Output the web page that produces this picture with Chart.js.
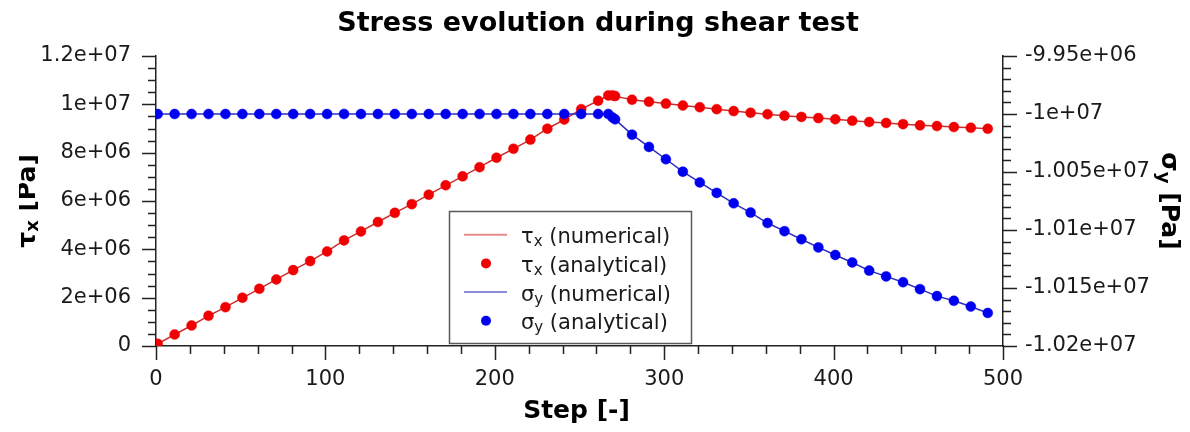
<!DOCTYPE html>
<html><head><meta charset="utf-8">
<script src="https://cdn.jsdelivr.net/npm/chart.js@4"></script>
<style>html,body{margin:0;padding:0;background:#fff;overflow:hidden}#wrap{width:1190px;height:432px}</style>
</head><body><div id="wrap"><canvas id="c" width="1190" height="432"></canvas></div>
<script>
// ---------- data ----------
const chartTitle = 'Stress evolution during shear test';
const xAxisTitle = 'Step [-]';
const startStep = 0;
const tauStart = 0;
const sigmaStart = -10.0e6;
const steps = [1,11,21,31,41,51,61,71,81,91,101,111,121,131,141,151,161,171,181,191,201,211,221,231,241,251,261,267,269.5,271,281,291,301,311,321,331,341,351,361,371,381,391,401,411,421,431,441,451,461,471,481,491];
const tauAnalytical = [0.09e6,0.476e6,0.849e6,1.249e6,1.608e6,1.995e6,2.367e6,2.754e6,3.140e6,3.513e6,3.913e6,4.37e6,4.74e6,5.13e6,5.51e6,5.87e6,6.26e6,6.65e6,7.02e6,7.40e6,7.79e6,8.16e6,8.54e6,8.99e6,9.37e6,9.80e6,10.15e6,10.37e6,10.37e6,10.34e6,10.19e6,10.11e6,10.03e6,9.95e6,9.88e6,9.80e6,9.72e6,9.65e6,9.59e6,9.53e6,9.48e6,9.43e6,9.38e6,9.32e6,9.27e6,9.23e6,9.18e6,9.13e6,9.10e6,9.06e6,9.03e6,8.99e6];
const sigmaAnalytical = [-10.0e6,-10.0e6,-10.0e6,-10.0e6,-10.0e6,-10.0e6,-10.0e6,-10.0e6,-10.0e6,-10.0e6,-10.0e6,-10.0e6,-10.0e6,-10.0e6,-10.0e6,-10.0e6,-10.0e6,-10.0e6,-10.0e6,-10.0e6,-10.0e6,-10.0e6,-10.0e6,-10.0e6,-10.0e6,-10.0e6,-10.0e6,-10.0e6,-10.003e6,-10.0046e6,-10.0178e6,-10.0284e6,-10.039e6,-10.0497e6,-10.059e6,-10.068e6,-10.077e6,-10.085e6,-10.094e6,-10.101e6,-10.108e6,-10.115e6,-10.1215e6,-10.128e6,-10.135e6,-10.140e6,-10.145e6,-10.151e6,-10.157e6,-10.161e6,-10.166e6,-10.1715e6];
const leftTickLabels = ['0','2e+06','4e+06','6e+06','8e+06','1e+07','1.2e+07'];
const rightTickLabels = ['-1.02e+07','-1.015e+07','-1.01e+07','-1.005e+07','-1e+07','-9.95e+06'];
const seriesNames = [['τ','x',' (numerical)'],['τ','x',' (analytical)'],['σ','y',' (numerical)'],['σ','y',' (analytical)']];
const leftTitle = ['τ','x',' [Pa]'];
const rightTitle = ['σ','y',' [Pa]'];

// ---------- config ----------
const X_MIN=0, X_MAX=500, X_STEP=100, X_MINOR=20;
const Y_MIN=0, Y_MAX=1.2e7, Y_STEP=2e6, Y_MINOR=5e5;
const Y2_MIN=-1.02e7, Y2_MAX=-9.95e6, Y2_STEP=5e4, Y2_MINOR=1e4;
const FONT='"DejaVu Sans", Verdana, sans-serif';
const RED='rgb(240,0,0)', BLUE='rgb(0,0,240)';
const RED_LINE='rgb(205,45,45)', BLUE_LINE='rgb(45,45,190)';
const AXIS='#222';

const pts = (xs, ys) => xs.map((x,i)=>({x:x,y:ys[i]}));
const tauNumerical = [{x:startStep,y:tauStart}].concat(pts(steps,tauAnalytical));
const sigmaNumerical = [{x:startStep,y:sigmaStart}].concat(pts(steps,sigmaAnalytical));

function partsFor(ctx, parts, base, sub, dy){
  return parts.map((t,i)=>({t:t, font: i===1?sub:base, dy: i===1?dy:0}));
}
function richWidth(ctx, parts){ let w=0; for(const p of parts){ctx.font=p.font; w+=ctx.measureText(p.t).width;} return w; }
function drawRich(ctx, parts, x, y){ let cx=x; for(const p of parts){ctx.font=p.font; ctx.fillText(p.t,cx,y+p.dy); cx+=ctx.measureText(p.t).width;} }

const decorations = {
  id:'decorations',
  afterDraw(chart){
    const ctx=chart.ctx, ca=chart.chartArea;
    const sx=chart.scales.x, sy=chart.scales.y, sy2=chart.scales.y2;
    ctx.save();
    ctx.strokeStyle=AXIS; ctx.lineWidth=1.5;
    // ticks
    ctx.beginPath();
    for(let v=X_MIN; v<=X_MAX+1e-9; v+=X_MINOR){
      const p=Math.round(sx.getPixelForValue(v))+0.5, len=(Math.round(v)%X_STEP===0)?14:8;
      ctx.moveTo(p,ca.bottom); ctx.lineTo(p,ca.bottom+len);
    }
    for(let k=0; k<=Math.round((Y_MAX-Y_MIN)/Y_MINOR); k++){
      const v=Y_MIN+k*Y_MINOR, p=Math.round(sy.getPixelForValue(v))+0.5, len=(k%4===0)?14:8;
      ctx.moveTo(ca.left,p); ctx.lineTo(ca.left-len,p);
    }
    for(let k=0; k<=Math.round((Y2_MAX-Y2_MIN)/Y2_MINOR); k++){
      const v=Y2_MIN+k*Y2_MINOR, p=Math.round(sy2.getPixelForValue(v))+0.5, len=(k%5===0)?14:8;
      ctx.moveTo(ca.right,p); ctx.lineTo(ca.right+len,p);
    }
    ctx.stroke();

    ctx.fillStyle='#000';
    ctx.textBaseline='alphabetic';
    // title
    ctx.font='bold 27px '+FONT; ctx.textAlign='center';
    ctx.fillText(chartTitle, 598, 31);
    // x title
    ctx.font='bold 25px '+FONT;
    ctx.fillText(xAxisTitle, (ca.left+ca.right)/2-3, 418);
    ctx.textAlign='left';
    const cy=(ca.top+ca.bottom)/2;
    // left title (clipped at left edge like the reference)
    ctx.save();
    ctx.beginPath(); ctx.rect(19,0,200,432); ctx.clip();
    const lp=partsFor(ctx,leftTitle,'bold 25px '+FONT,'bold 18px '+FONT,3);
    ctx.translate(35,cy); ctx.rotate(-Math.PI/2);
    drawRich(ctx, lp, -richWidth(ctx,lp)/2, 0);
    ctx.restore();
    // right title
    ctx.save();
    const rp=partsFor(ctx,rightTitle,'bold 25px '+FONT,'bold 18px '+FONT,4);
    ctx.translate(1162,cy); ctx.rotate(Math.PI/2);
    drawRich(ctx, rp, -richWidth(ctx,rp)/2, 0);
    ctx.restore();

    // legend
    const bx=449.5, by=211.5, bw=242, bh=132;
    ctx.fillStyle='#fff'; ctx.fillRect(bx,by,bw,bh);
    ctx.strokeStyle='#5a5a5a'; ctx.lineWidth=1.5; ctx.strokeRect(bx,by,bw,bh);
    const ds=chart.data.datasets;
    for(let i=0;i<4;i++){
      const rowY=236.7+i*28.7, symY=rowY-2;
      if(i%2===0){
        ctx.save(); ctx.globalAlpha=0.55; ctx.strokeStyle=ds[i].borderColor; ctx.lineWidth=2;
        ctx.beginPath(); ctx.moveTo(464,symY); ctx.lineTo(507,symY); ctx.stroke(); ctx.restore();
      } else {
        ctx.fillStyle=ds[i].backgroundColor; ctx.beginPath(); ctx.arc(486,symY,5,0,Math.PI*2); ctx.fill();
      }
      ctx.fillStyle='#1a1a1a'; ctx.textBaseline='alphabetic';
      const lpp=partsFor(ctx,seriesNames[i],'21px '+FONT,'15px '+FONT,3);
      drawRich(ctx,lpp,521,rowY+6.6);
    }
    ctx.restore();
  }
};

const tickFont={family:FONT,size:21};
new Chart(document.getElementById('c'),{
  type:'scatter',
  data:{datasets:[
    {label:'tau numerical',data:tauNumerical,showLine:true,pointRadius:0,borderColor:RED_LINE,backgroundColor:RED_LINE,borderWidth:1.5,yAxisID:'y',order:3},
    {label:'tau analytical',data:pts(steps,tauAnalytical),showLine:false,pointRadius:5,pointBorderWidth:1,pointBorderColor:'rgba(240,0,0,0.45)',backgroundColor:RED,borderColor:RED,yAxisID:'y',order:1},
    {label:'sigma numerical',data:sigmaNumerical,showLine:true,pointRadius:0,borderColor:BLUE_LINE,backgroundColor:BLUE_LINE,borderWidth:1.5,yAxisID:'y2',order:2},
    {label:'sigma analytical',data:pts(steps,sigmaAnalytical),showLine:false,pointRadius:5,pointBorderWidth:1,pointBorderColor:'rgba(0,0,240,0.45)',backgroundColor:BLUE,borderColor:BLUE,yAxisID:'y2',order:0}
  ]},
  options:{
    responsive:false,animation:false,devicePixelRatio:1,events:[],
    layout:{padding:{top:56,left:0,right:0,bottom:0}},
    plugins:{legend:{display:false},title:{display:false},tooltip:{enabled:false}},
    scales:{
      x:{type:'linear',position:'bottom',min:X_MIN,max:X_MAX,
        ticks:{stepSize:X_STEP,font:tickFont,color:'#1a1a1a',padding:21,maxRotation:0,autoSkip:false},
        grid:{display:false,drawTicks:false},border:{display:true,color:AXIS,width:1.5},
        afterFit(s){s.height=86;}},
      y:{type:'linear',position:'left',min:Y_MIN,max:Y_MAX,
        ticks:{stepSize:Y_STEP,font:tickFont,color:'#1a1a1a',padding:25,autoSkip:false,
          callback:(v)=>leftTickLabels[Math.round((v-Y_MIN)/Y_STEP)]},
        grid:{display:false,drawTicks:false},border:{display:true,color:AXIS,width:1.5},
        afterFit(s){s.width=156;}},
      y2:{type:'linear',position:'right',min:Y2_MIN,max:Y2_MAX,
        ticks:{stepSize:Y2_STEP,font:tickFont,color:'#1a1a1a',padding:22,autoSkip:false,
          callback:(v)=>rightTickLabels[Math.round((v-Y2_MIN)/Y2_STEP)]},
        grid:{display:false,drawTicks:false},border:{display:true,color:AXIS,width:1.5},
        afterFit(s){s.width=187;}}
    }
  },
  plugins:[decorations]
});
</script></body></html>
